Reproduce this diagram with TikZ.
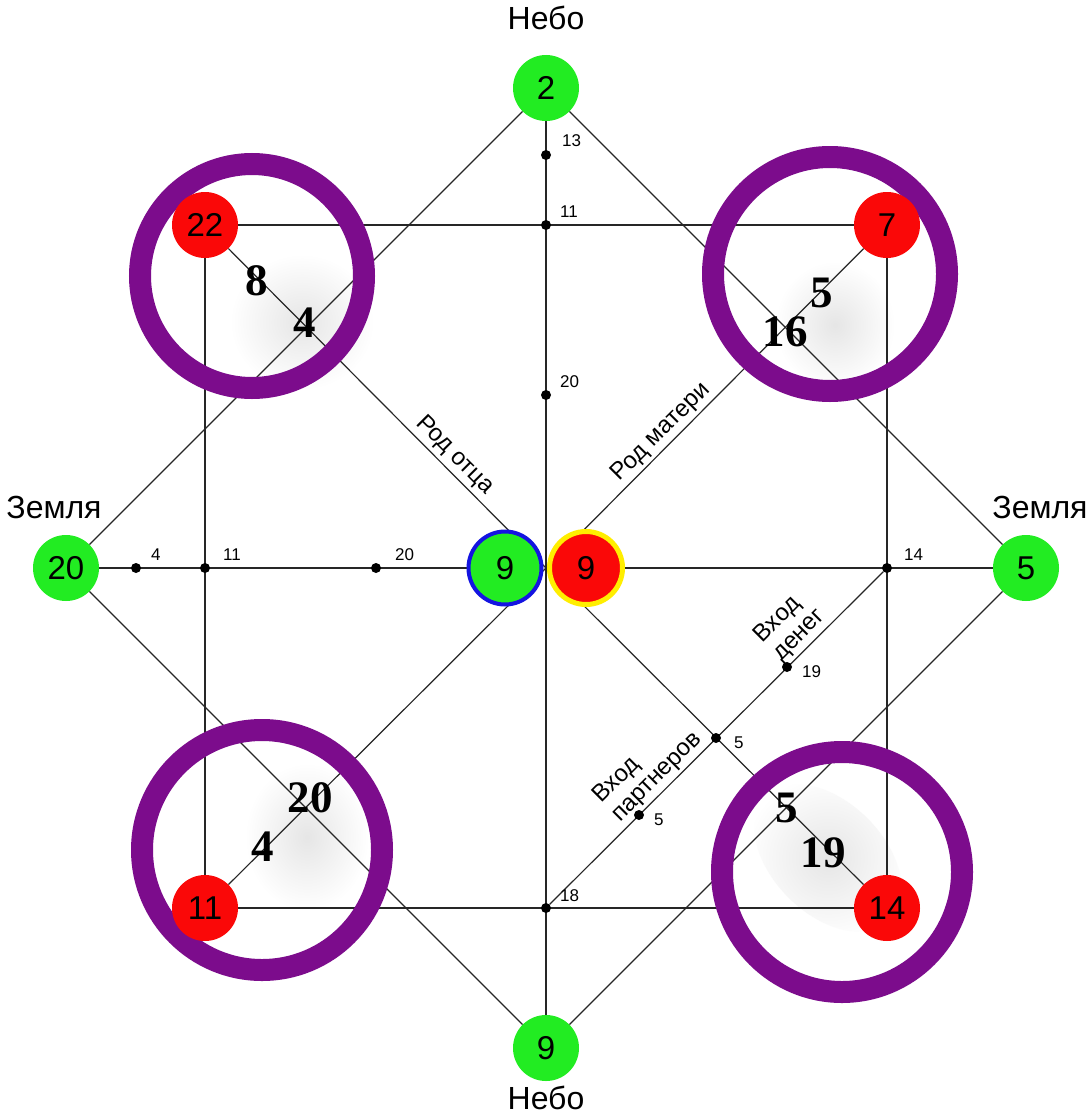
\documentclass[tikz,border=0pt]{standalone}
\usepackage{fontspec}
\setmainfont{Liberation Sans}
\newfontfamily\bignumfont{Liberation Serif}
\definecolor{nodegreen}{RGB}{34,236,34}
\definecolor{nodered}{RGB}{250,8,8}
\definecolor{ringpurple}{RGB}{124,12,140}
\definecolor{ringblue}{RGB}{20,20,225}
\definecolor{ringyellow}{RGB}{255,238,0}
\pgfdeclarelayer{blobs}
\pgfdeclarelayer{lines}
\pgfdeclarelayer{rings}
\pgfsetlayers{blobs,lines,rings,main}
\begin{document}
\begin{tikzpicture}[x=1pt,y=-1pt,
  basenode/.style={circle,inner sep=0pt,minimum size=66pt,font=\fontsize{33}{38}\selectfont,text=black},
  gnode/.style={basenode,fill=nodegreen},
  rnode/.style={basenode,fill=nodered},
  cgnode/.style={basenode,fill=nodegreen,draw=ringblue,line width=4pt,minimum size=73pt},
  crnode/.style={basenode,fill=nodered,draw=ringyellow,line width=5pt,minimum size=73pt},
  dotn/.style={circle,fill=black,inner sep=0pt,minimum size=10pt},
  smalllab/.style={anchor=west,inner sep=2pt,font=\fontsize{17}{20}\selectfont},
  bigword/.style={inner sep=0pt,font=\fontsize{32}{36}\selectfont},
  rotlab/.style={anchor=south,inner sep=3pt,font=\fontsize{24}{26}\selectfont},
  bignum/.style={inner sep=0pt,font=\bignumfont\bfseries\fontsize{45}{45}\selectfont},
  thinline/.style={draw=black!85,line width=1.2pt},
  ringstyle/.style={draw=ringpurple,line width=22pt},
  blob/.style={inner color=black!10,outer color=white}
]
\useasboundingbox (0,0) rectangle (1087,1116);

% main nodes
\node[gnode] (T) at (546,88) {2};
\node[gnode] (B) at (546,1048) {9};
\node[gnode] (L) at (66,568) {20};
\node[gnode] (R) at (1026,568) {5};
\node[rnode] (TL) at (205,225) {22};
\node[rnode] (TR) at (887,225) {7};
\node[rnode] (BL) at (205,908) {11};
\node[rnode] (BR) at (887,908) {14};
\node[cgnode] (CG) at (505,568) {9};
\node[crnode] (CR) at (586,568) {9};
\coordinate (C) at (546,568);

% words
\node[bigword] (nebo1) at (546,18) {Небо};
\node[bigword] (nebo2) at (546,1098) {Небо};
\node[bigword] (zem1) at (54,507) {Земля};
\node[bigword] (zem2) at (1040,507) {Земля};

% dots
\node[dotn] (d13) at (546,155) {};
\node[dotn] (d11t) at (546,225) {};
\node[dotn] (d20v) at (546,395) {};
\node[dotn] (d18) at (546,908) {};
\node[dotn] (d4h) at (136,568) {};
\node[dotn] (d11h) at (205,568) {};
\node[dotn] (d20h) at (376,568) {};
\node[dotn] (d14) at (887,568) {};
\node[dotn] (d5a) at (639,815) {};
\node[dotn] (d5b) at (716,738) {};
\node[dotn] (d19) at (787,667) {};

% small labels
\node[smalllab] (l13) at (560,141) {13};
\node[smalllab] (l11t) at (558,212) {11};
\node[smalllab] (l20v) at (558,382) {20};
\node[smalllab] (l18) at (558,896) {18};
\node[smalllab] (l4h) at (149,555) {4};
\node[smalllab] (l11h) at (221,555) {11};
\node[smalllab] (l20h) at (393,555) {20};
\node[smalllab] (l14) at (902,555) {14};
\node[smalllab] (l5a) at (652,820) {5};
\node[smalllab] (l5b) at (732,743) {5};
\node[smalllab] (l19) at (800,672) {19};

% rotated labels
\node[rotlab,rotate=-45] (rodotca) at (445,465) {Род отца};
\node[rotlab,rotate=45] (rodmat) at (671,442) {Род матери};
\node[rotlab,rotate=45,align=left] (vden) at (809,645) {Вход\\денег};
\node[rotlab,rotate=45,align=left] (vpart) at (667,787) {Вход\\партнеров};

% big numbers
\node[bignum] (n8) at (257,281) {8};
\node[bignum] (n4a) at (305,323) {4};
\node[bignum] (n5a) at (822,293) {5};
\node[bignum] (n16) at (785,332) {16};
\node[bignum] (n20) at (310,798) {20};
\node[bignum] (n4b) at (263,847) {4};
\node[bignum] (n5b) at (787,808) {5};
\node[bignum] (n19) at (823,853) {19};

\begin{pgfonlayer}{blobs}
\fill[white] (0,0) rectangle (1087,1116);
\shade[blob] (302,322) ellipse [x radius=72pt,y radius=68pt];
\shade[blob] (835,325) ellipse [x radius=60pt,y radius=64pt];
\shade[blob] (307,837) ellipse [x radius=62pt,y radius=74pt];
\shade[blob,rotate around={-45:(828,858)}] (828,858) ellipse [x radius=88pt,y radius=56pt];
\end{pgfonlayer}

\begin{pgfonlayer}{lines}
\draw[thinline] (T) -- (L);
\draw[thinline] (L) -- (B);
\draw[thinline] (B) -- (R);
\draw[thinline] (R) -- (T);
\draw[thinline] (TL) -- (TR);
\draw[thinline] (TR) -- (BR);
\draw[thinline] (BR) -- (BL);
\draw[thinline] (BL) -- (TL);
\draw[thinline] (T) -- (B);
\draw[thinline] (L) -- (CG);
\draw[thinline] (CR) -- (R);
\draw[thinline] (TL) -- (C);
\draw[thinline] (TR) -- (C);
\draw[thinline] (BL) -- (C);
\draw[thinline] (BR) -- (C);
\draw[thinline] (d18) -- (d14);
\end{pgfonlayer}

\begin{pgfonlayer}{rings}
\draw[ringstyle] (252,276) circle [radius=112pt];
\draw[ringstyle] (830,274) circle [radius=117pt];
\draw[ringstyle] (262,850) circle [radius=120pt];
\draw[ringstyle] (842,872) circle [radius=120pt];
\end{pgfonlayer}
\end{tikzpicture}
\end{document}
